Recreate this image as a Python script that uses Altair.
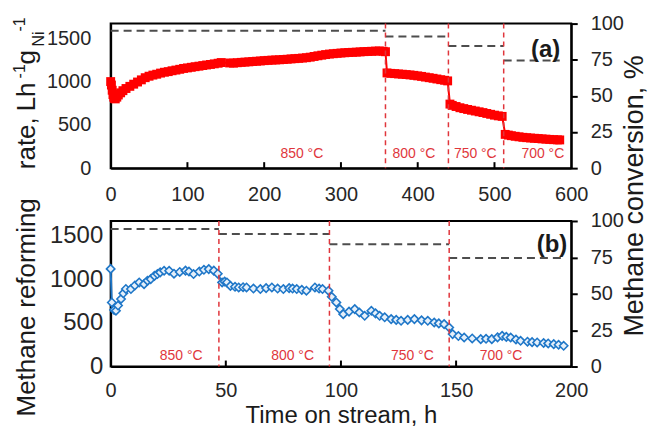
import altair as alt
import pandas as pd

FONT = "Liberation Sans"
RED = "#ff0000"
RED_LINE = "#e0363c"
BLUE = "#1f77c8"
GRAY = "#4d4d4d"
TXT = "#1a1a1a"

# ---------------- panel (a) data ----------------
t_a = [0, 1, 2, 3, 4, 5, 6, 8, 10, 13, 16, 20, 25, 30, 35, 40, 45, 50, 55, 60, 65, 70, 75, 80, 85, 90, 95,
       100, 105, 110, 115, 120, 125, 130, 135, 140, 144,
       155, 160, 165, 170, 175, 180, 185, 190, 195, 200, 205, 210, 215, 220, 225, 230, 235, 240, 245, 250,
       255, 260, 265, 270, 275, 280, 285, 290, 295, 300, 305, 310, 315, 320, 325, 330, 335, 340, 345, 350,
       355, 358,
       360, 365, 370, 375, 380, 385, 390, 395, 400, 405, 410, 415, 420, 425, 430, 435, 439,
       442, 445, 450, 455, 460, 465, 470, 475, 480, 485, 490, 495, 500, 505, 510,
       514, 518, 522, 527, 532, 537, 542, 547, 552, 557, 562, 567, 572, 577, 582, 585]
rate_a = [1000, 960, 900, 850, 820, 805, 800, 820, 845, 870, 895, 920, 945, 970, 995, 1020, 1045, 1062, 1075,
          1085, 1098, 1108, 1115, 1125, 1133, 1142, 1152, 1158, 1165, 1172, 1178, 1185, 1192, 1198, 1205, 1212, 1220,
          1215, 1213, 1218, 1222, 1225, 1228, 1232, 1235, 1238, 1242, 1245, 1248, 1250, 1252, 1255, 1258, 1262,
          1265, 1268, 1272, 1276, 1282, 1290, 1298, 1305, 1312, 1318, 1322, 1326, 1330, 1333, 1336, 1338, 1340,
          1343, 1346, 1348, 1350, 1352, 1354, 1350, 1345,
          1100, 1095, 1092, 1088, 1085, 1081, 1077, 1072, 1066, 1060, 1052, 1045, 1038, 1030, 1022, 1015, 1008,
          740, 725, 712, 698, 688, 678, 669, 660, 651, 642, 632, 622, 612, 604, 598,
          390, 382, 375, 368, 362, 356, 352, 348, 345, 342, 338, 335, 332, 329, 327, 326]
step_start_a = [0, 358, 440, 512]
step_end_a = [358, 440, 512, 585]
conv_a = [95, 91, 84.5, 74.5]
switch_a = [358, 440, 512]
temps = ["850 °C", "800 °C", "750 °C", "700 °C"]
temp_t_a = [249, 395, 475, 563]
temp_conv_a = [9.5, 9.5, 9.5, 9.5]
xticks_a = [100, 200, 300, 400, 500]

# ---------------- panel (b) data ----------------
t_b = [0, 0.5, 1.5, 2.3, 3.2, 4.5, 5.5, 6.6, 8.8, 10.5, 12.4, 14.5, 16, 17.4, 19, 20.3, 21.5, 23.2, 25.4, 27.5,
       30, 32.5, 34, 36, 38.5, 40.5, 42.6, 44.8, 46.5,
       48.4, 49.5, 50.5, 52, 54, 55.6, 57.5, 59, 62, 65, 67.5, 70, 72.5, 75, 77.5, 79, 80.8, 83, 85, 88.7,
       90.5, 92, 94.6,
       96, 98, 99.5, 101, 103.5, 106, 108, 110.3, 113.2, 115, 116.8, 119, 121.8, 124, 126.1, 129, 131.9, 135,
       137.7, 140.5, 142.5, 144.8, 147,
       148.5, 151, 153.5, 157, 160.7, 163, 165.5, 168, 170, 171.8, 173.7, 176, 178, 181, 183, 185.2, 188, 190,
       192.4, 194.5, 196.7]
rate_b = [1120, 735, 650, 640, 700, 775, 840, 890, 889, 930, 965, 945, 985, 1003, 1040, 1061, 1080, 1099, 1099,
          1065, 1085, 1100, 1090, 1061, 1090, 1110, 1118, 1100, 1065,
          965, 975, 965, 925, 915, 907, 910, 907, 895, 889, 900, 907, 895, 889, 900, 895, 889, 880, 870, 907,
          895, 889, 870,
          800, 735, 660, 601, 630, 659, 620, 582, 640, 610, 582, 565, 544, 535, 525, 535, 544, 530, 525, 505,
          495, 487, 448,
          372, 350, 333, 322, 314, 318, 314, 335, 352, 340, 333, 310, 295, 285, 280, 276, 270, 265, 257, 250, 238]
step_start_b = [0, 47, 95, 147]
step_end_b = [47, 95, 147, 196]
conv_b = [94.5, 91, 84, 74.5]
switch_b = [47, 95, 147]
temp_t_b = [30.6, 79, 131, 169.5]
temp_conv_b = [7.5, 7.5, 7.5, 7.5]
xticks_b = [50, 100, 150]

rate_ticks = [0, 500, 1000, 1500]
conv_ticks = [0, 25, 50, 75, 100]

W = 462
HA = 145
HB = 146
RATE_MAX = 1670


def text_piece(txt, x, y, size, angle=270, align="left", weight="normal", baseline="alphabetic", font=FONT,
               color=TXT):
    return alt.Chart(alt.Data(values=[{}])).mark_text(
        text=txt, fontSize=size, font=font, angle=angle, align=align, baseline=baseline,
        fontWeight=weight, color=color
    ).encode(x=alt.value(x), y=alt.value(y))


def panel(t, rate, s0, s1, conv, switch, temp_t, temp_c, xticks, xmax, xstep, H, series_mark, left_label_size,
          left_pad, x_pad, tag, tag_x, tag_y, xtitle=None, extra=()):
    x_scale = alt.Scale(domain=[0, xmax], nice=False)
    xaxis_kw = dict(values=list(range(0, xmax + 1, xstep)), ticks=False, labelPadding=x_pad, labelFontSize=20,
                    labelFont=FONT, labelColor="#262626", domainColor="black", domainWidth=2, format="d",
                    labelFlush=False)
    if xtitle:
        xaxis_kw.update(title=xtitle, titleFont=FONT, titleFontSize=24, titleFontWeight="normal",
                        titleColor=TXT, titleY=56, titleBaseline="alphabetic")
    else:
        xaxis_kw.update(title=None)
    x_axis = alt.Axis(**xaxis_kw)

    def xenc():
        return alt.X("t:Q", scale=x_scale, axis=x_axis)

    df = pd.DataFrame({"t": t, "rate": rate})
    series = series_mark(alt.Chart(df)).encode(
        x=xenc(),
        y=alt.Y("rate:Q", scale=alt.Scale(domain=[0, RATE_MAX], nice=False, zero=False),
                axis=alt.Axis(values=rate_ticks, ticks=False, labelPadding=left_pad, labelFontSize=left_label_size,
                              labelFont=FONT, labelColor="#262626", title=None, domainColor="black",
                              domainWidth=2, format="d", labelFlush=False)),
    )
    steps = alt.Chart(pd.DataFrame({"t": s0, "t1": s1, "conv": conv})).mark_rule(
        color=GRAY, strokeWidth=2, strokeDash=[8, 5]
    ).encode(
        x=xenc(),
        x2="t1:Q",
        y=alt.Y("conv:Q", scale=alt.Scale(domain=[0, 100], nice=False),
                axis=alt.Axis(orient="right", values=conv_ticks, tickSize=6, tickWidth=2, tickColor="black",
                              labelPadding=13, labelFontSize=20, labelFont=FONT, labelColor="#262626",
                              title=None, domainColor="black", domainWidth=2, format="d", labelFlush=False)),
    )
    switches = alt.Chart(pd.DataFrame({"t": switch})).mark_rule(
        color=RED_LINE, strokeWidth=1.5, strokeDash=[5, 4]
    ).encode(x=xenc())
    labels = alt.Chart(pd.DataFrame({"t": temp_t, "c": temp_c, "label": temps})).mark_text(
        font=FONT, fontSize=14, color=RED_LINE, baseline="middle"
    ).encode(
        x=xenc(),
        y=alt.Y("c:Q", scale=alt.Scale(domain=[0, 100], nice=False), axis=None),
        text="label:N",
    )
    ticks = alt.Chart(pd.DataFrame({"t": xticks})).mark_rule(color="black", strokeWidth=2).encode(
        x=xenc(), y=alt.value(H), y2=alt.value(H - 6)
    )
    tag_text = text_piece(tag, tag_x, tag_y, 24, angle=0, align="right", weight="bold", baseline="middle")
    return alt.layer(series, steps, switches, labels, ticks, tag_text, *extra).resolve_scale(
        y="independent").properties(width=W, height=H)


panel_a = panel(
    t_a, rate_a, step_start_a, step_end_a, conv_a, switch_a, temp_t_a, temp_conv_a, xticks_a, 600, 100, HA,
    lambda c: c.mark_line(color=RED, strokeWidth=2,
                          point=alt.OverlayMarkDef(shape="square", filled=True, size=80, color=RED)),
    20, 20, 16, "(a)", 451, 27,
)

# left title pieces (relative to panel b origin)
left_title = [
    text_piece("Methane", -76, 196, 26),
    text_piece("reforming", -76, 87, 26),
    text_piece("rate,", -76, -52, 26),
    text_piece("Lh", -76, -110, 26),
    text_piece("-1", -85.5, -143, 16),
    text_piece("g", -76, -157, 26),
    text_piece("Ni", -66.5, -175, 16),
    text_piece("-1", -85.5, -190, 16),
    text_piece("Methane conversion, %", 534, 116, 27),
]

panel_b = panel(
    t_b, rate_b, step_start_b, step_end_b, conv_b, switch_b, temp_t_b, temp_conv_b, xticks_b, 200, 50, HB,
    lambda c: c.mark_line(color=BLUE, strokeWidth=2,
                          point=alt.OverlayMarkDef(shape="diamond", filled=True, fill="#e6f0fa", stroke=BLUE,
                                                   strokeWidth=1.6, size=70)),
    24, 8, 14, "(b)", 458, 24, xtitle="Time on stream, h", extra=left_title,
)

chart = alt.vconcat(panel_a, panel_b, spacing=53, bounds="flush").properties(
    padding={"left": 11, "top": 12, "right": 0, "bottom": 0},
    background="white",
).configure_view(stroke="black", strokeWidth=2).configure_axis(grid=False)

chart.save("out.html", embed_options={"renderer": "svg", "actions": False})
